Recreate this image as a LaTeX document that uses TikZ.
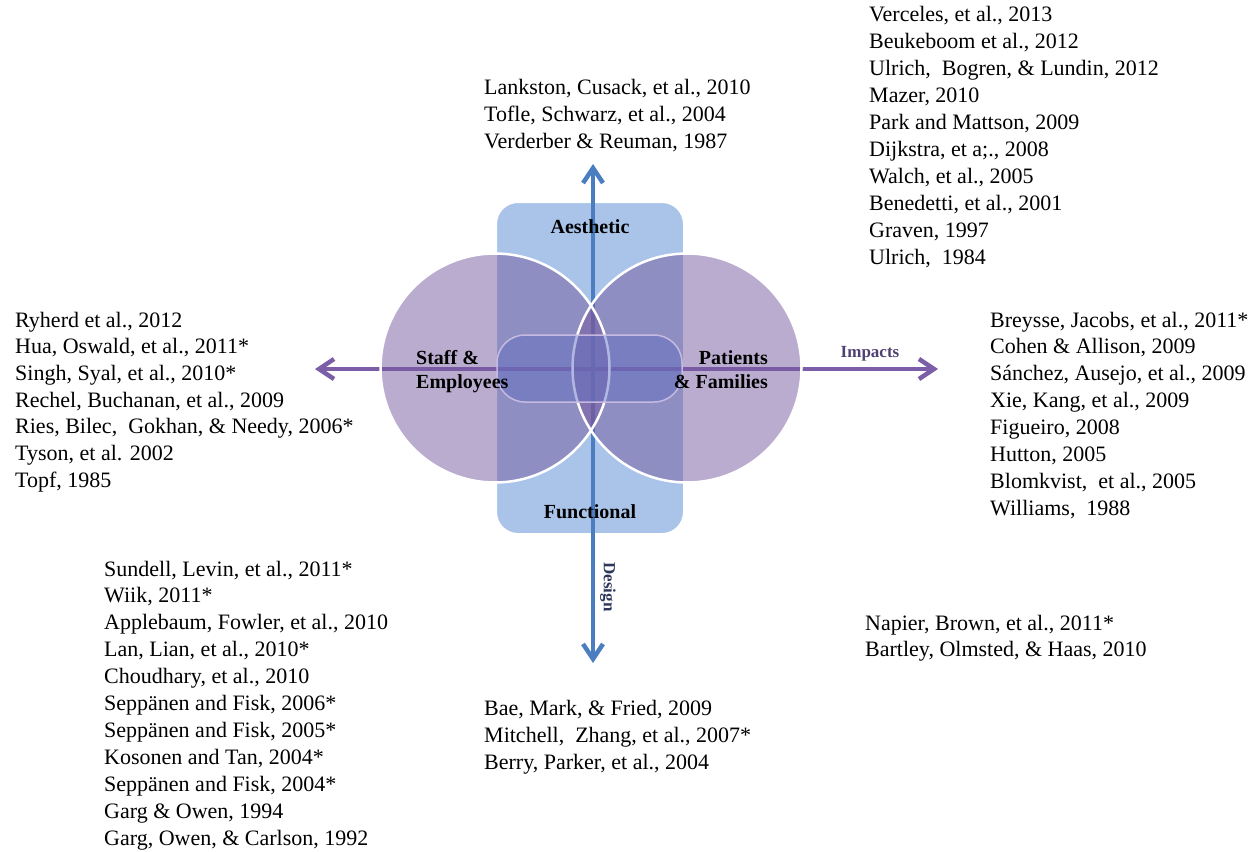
\documentclass[tikz,border=0pt]{standalone}
\usepackage{fontspec}
\setmainfont{Liberation Serif}
\usetikzlibrary{arrows.meta}

\definecolor{rectblue}{RGB}{169,196,232}
\definecolor{axisblue}{RGB}{74,126,193}
\definecolor{axispurple}{RGB}{123,94,167}
\definecolor{ringpurple}{RGB}{118,90,159}
\definecolor{bandblue}{RGB}{100,112,192}
\definecolor{bandedge}{RGB}{205,192,228}
\definecolor{impactcol}{RGB}{80,65,115}
\definecolor{designcol}{RGB}{45,55,90}

\begin{document}
\begin{tikzpicture}[x=1pt,y=-1pt,
  ref/.style={anchor=base west, inner sep=0pt, font=\fontsize{22}{26}\selectfont},
  lbl/.style={inner sep=0pt, font=\bfseries\fontsize{20}{24}\selectfont},
  barb/.style={line width=4.5pt, {Straight Barb[length=15pt,width=20pt]}-{Straight Barb[length=15pt,width=20pt]}},
  barbend/.style={line width=4.5pt, -{Straight Barb[length=15pt,width=20pt]}},
  ring/.style={fill=ringpurple, fill opacity=0.5},
  ringedge/.style={draw=white, line width=2.5pt}]
\useasboundingbox (0,0) rectangle (1260,851);

% design column
\node[draw=white, line width=2pt, fill=rectblue, rounded corners=22pt,
      minimum width=188pt, minimum height=332pt, inner sep=0pt] (design) at (590,368) {};

% axis end points
\coordinate (west) at (315,369);
\coordinate (east) at (938,369);
\coordinate (north) at (593,164);
\coordinate (south) at (593,663);

\draw[barb, axispurple] (west) -- (east);
\draw[barb, axisblue] (north) -- (south);

% the two user groups
\coordinate (staffc) at (495,368);
\coordinate (patc) at (687,368);
\fill[ring] (staffc) circle[radius=114.5pt];
\fill[ring] (patc) circle[radius=114.5pt];
\draw[ringedge] (staffc) circle[radius=114.5pt];
\draw[ringedge] (patc) circle[radius=114.5pt];

% central band
\node[draw=bandedge, line width=1.5pt, fill=bandblue, fill opacity=0.5, draw opacity=0.9,
      rounded corners=28pt, minimum width=185pt, minimum height=67pt, inner sep=0pt]
      (band) at (589.5,368.5) {};

% labels
\node[lbl, anchor=base] (aes) at (590,233) {Aesthetic};
\node[lbl, anchor=base] (fun) at (590,518) {Functional};
\node[lbl, anchor=base west] (staff1) at (416,364) {Staff \&};
\node[lbl, anchor=base west] (staff2) at (416,388) {Employees};
\node[lbl, anchor=base east] (pat1) at (768,364) {Patients};
\node[lbl, anchor=base east] (pat2) at (768,388) {\& Families};
\node[inner sep=0pt, anchor=base, text=impactcol, font=\bfseries\fontsize{17}{20}\selectfont]
      (impacts) at (870,357) {Impacts};
\node[inner sep=0pt, rotate=-90, text=designcol, font=\bfseries\fontsize{17}{20}\selectfont]
      (designlbl) at (608,587) {Design};

% reference lists
\foreach \t [count=\i from 0] in {{Lankston, Cusack, et al., 2010},{Tofle, Schwarz, et al., 2004},{Verderber \& Reuman, 1987}}
  \node[ref] (top\i) at (484,{94+27*\i}) {\t};

\foreach \t [count=\i from 0] in {{Verceles, et al., 2013},{Beukeboom et al., 2012},{Ulrich,~ Bogren, \& Lundin, 2012},{Mazer, 2010},{Park and Mattson, 2009},{Dijkstra, et a;., 2008},{Walch, et al., 2005},{Benedetti, et al., 2001},{Graven, 1997},{Ulrich,~ 1984}}
  \node[ref] (tr\i) at (869,{22+26.9*\i}) {\t};

\foreach \t [count=\i from 0] in {{Ryherd et al., 2012},{Hua, Oswald, et al., 2011*},{Singh, Syal, et al., 2010*},{Rechel, Buchanan, et al., 2009},{Ries, Bilec,~ Gokhan, \& Needy, 2006*},{Tyson, et al. 2002},{Topf, 1985}}
  \node[ref] (lt\i) at (15,{327+26.7*\i}) {\t};

\foreach \t [count=\i from 0] in {{Breysse, Jacobs, et al., 2011*},{Cohen \& Allison, 2009},{Sánchez, Ausejo, et al., 2009},{Xie, Kang, et al., 2009},{Figueiro, 2008},{Hutton, 2005},{Blomkvist,~ et al., 2005},{Williams,~ 1988}}
  \node[ref] (rt\i) at (990,{327+26.86*\i}) {\t};

\foreach \t [count=\i from 0] in {{Sundell, Levin, et al., 2011*},{Wiik, 2011*},{Applebaum, Fowler, et al., 2010},{Lan, Lian, et al., 2010*},{Choudhary, et al., 2010},{Seppänen and Fisk, 2006*},{Seppänen and Fisk, 2005*},{Kosonen and Tan, 2004*},{Seppänen and Fisk, 2004*},{Garg \& Owen, 1994},{Garg, Owen, \& Carlson, 1992}}
  \node[ref] (bl\i) at (104,{576+26.9*\i}) {\t};

\foreach \t [count=\i from 0] in {{Bae, Mark, \& Fried, 2009},{Mitchell,~ Zhang, et al., 2007*},{Berry, Parker, et al., 2004}}
  \node[ref] (bc\i) at (484,{715+27*\i}) {\t};

\foreach \t [count=\i from 0] in {{Napier, Brown, et al., 2011*},{Bartley, Olmsted, \& Haas, 2010}}
  \node[ref] (br\i) at (865,{630+26.5*\i}) {\t};

\end{tikzpicture}
\end{document}
